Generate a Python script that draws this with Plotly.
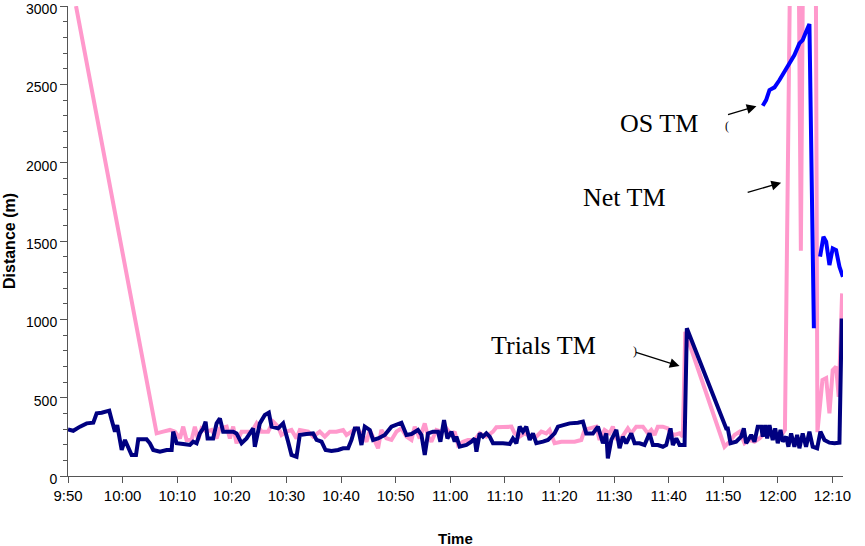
import plotly.graph_objects as go

DAY = "2000-01-01 "

# Trials TM (navy)
trials_time = [
    "09:50:00", "09:50:58", "09:52:12", "09:53:25", "09:54:38", "09:55:15", "09:56:10", "09:57:05", "09:57:33", "09:58:00",
    "09:58:36", "09:59:01", "09:59:50", "10:00:26", "10:01:02", "10:01:39", "10:02:27", "10:02:52", "10:04:24", "10:05:00",
    "10:05:37", "10:06:50", "10:08:04", "10:08:59", "10:09:16", "10:09:54", "10:11:06", "10:12:20", "10:12:56", "10:13:33",
    "10:14:09", "10:14:46", "10:15:12", "10:15:34", "10:16:35", "10:17:13", "10:17:49", "10:18:25", "10:20:15", "10:20:52",
    "10:21:47", "10:22:42", "10:23:55", "10:24:13", "10:25:08", "10:26:03", "10:26:47", "10:27:17", "10:28:29", "10:29:24",
    "10:30:19", "10:30:56", "10:31:51", "10:32:27", "10:33:41", "10:34:53", "10:35:31", "10:36:26", "10:37:10", "10:38:15",
    "10:39:28", "10:40:23", "10:41:18", "10:41:55", "10:42:31", "10:43:08", "10:43:45", "10:44:21", "10:45:16", "10:45:52",
    "10:46:47", "10:48:01", "10:49:14", "10:50:27", "10:51:04", "10:51:59", "10:52:54", "10:54:06", "10:54:44", "10:55:20",
    "10:55:56", "10:56:51", "10:57:46", "10:58:12", "10:58:52", "10:59:29", "11:00:13", "11:00:49", "11:01:08", "11:01:44",
    "11:02:58", "11:03:53", "11:04:29", "11:04:48", "11:05:24", "11:06:00", "11:06:37", "11:07:14", "11:07:50", "11:09:40",
    "11:10:53", "11:11:29", "11:12:07", "11:12:43", "11:13:19", "11:13:56", "11:14:33", "11:15:09", "11:15:46", "11:16:59",
    "11:17:54", "11:18:31", "11:19:07", "11:19:44", "11:20:38", "11:21:52", "11:23:23", "11:24:18", "11:24:55", "11:26:08",
    "11:27:03", "11:27:58", "11:28:35", "11:28:52", "11:29:30", "11:30:25", "11:31:01", "11:31:37", "11:32:14", "11:33:09",
    "11:33:46", "11:34:41", "11:35:35", "11:36:30", "11:37:07", "11:38:02", "11:38:57", "11:39:34", "11:40:21", "11:40:46",
    "11:41:24", "11:42:00", "11:42:55", "11:43:20", "11:50:33", "11:50:50", "11:51:20", "11:52:22", "11:53:17", "11:53:46",
    "11:54:12", "11:55:07", "11:55:43", "11:56:19", "11:56:57", "11:57:14", "11:57:41", "11:58:03", "11:58:28", "11:59:04",
    "11:59:31", "11:59:59", "12:00:29", "12:00:54", "12:01:31", "12:01:56", "12:02:26", "12:03:02", "12:03:32", "12:03:57",
    "12:04:33", "12:05:10", "12:05:47", "12:06:23", "12:07:12", "12:07:48", "12:08:32", "12:09:27", "12:10:22", "12:11:17",
    "12:11:42",
]
trials_dist = [
    298, 289, 315, 336, 340, 400, 404, 410, 417, 357,
    283, 325, 166, 230, 187, 134, 134, 234, 234, 209,
    166, 155, 166, 166, 283, 209, 204, 198, 219, 209,
    272, 304, 347, 240, 240, 336, 368, 283, 283, 272,
    209, 240, 304, 187, 336, 389, 404, 315, 304, 336,
    219, 134, 123, 262, 268, 272, 230, 219, 166, 160,
    166, 177, 177, 230, 304, 304, 198, 315, 294, 230,
    240, 262, 315, 336, 340, 262, 268, 294, 262, 134,
    272, 283, 283, 219, 357, 240, 283, 219, 251, 187,
    198, 219, 240, 155, 272, 251, 272, 251, 209, 209,
    204, 240, 209, 315, 283, 315, 230, 272, 209, 219,
    230, 251, 272, 315, 325, 336, 340, 347, 272, 272,
    315, 209, 272, 113, 230, 294, 177, 251, 209, 272,
    209, 209, 198, 272, 198, 198, 187, 198, 304, 198,
    240, 198, 198, 943, 304, 304, 209, 219, 251, 304,
    209, 262, 219, 315, 315, 251, 325, 240, 325, 230,
    304, 209, 294, 219, 251, 187, 272, 187, 262, 177,
    272, 187, 283, 187, 177, 283, 230, 213, 209, 213,
    1006,
]

# Net TM (pink)
net_time = [
    "09:51:28", "10:06:14", "10:07:26", "10:08:40", "10:09:35", "10:10:30", "10:11:06", "10:11:43", "10:12:38", "10:13:14",
    "10:13:51", "10:14:28", "10:15:23", "10:16:18", "10:17:13", "10:17:49", "10:19:03", "10:19:39", "10:20:15", "10:20:52",
    "10:21:47", "10:23:37", "10:24:32", "10:25:27", "10:26:39", "10:27:34", "10:28:29", "10:29:06", "10:30:01", "10:30:56",
    "10:31:51", "10:32:27", "10:33:59", "10:34:53", "10:36:07", "10:37:02", "10:37:57", "10:39:10", "10:40:23", "10:41:00",
    "10:41:55", "10:42:50", "10:43:45", "10:44:40", "10:45:16", "10:46:11", "10:46:47", "10:47:24", "10:48:19", "10:49:14",
    "10:50:09", "10:51:04", "10:51:59", "10:52:54", "10:53:30", "10:54:25", "10:55:20", "10:55:56", "10:56:33", "10:57:28",
    "10:58:23", "10:59:18", "11:00:13", "11:00:49", "11:01:26", "11:02:20", "11:03:15", "11:04:29", "11:05:24", "11:06:37",
    "11:07:50", "11:08:27", "11:11:12", "11:11:48", "11:12:43", "11:13:38", "11:14:51", "11:15:46", "11:16:41", "11:17:36",
    "11:18:12", "11:19:07", "11:20:21", "11:21:33", "11:22:47", "11:24:00", "11:24:37", "11:25:32", "11:26:45", "11:27:21",
    "11:28:16", "11:29:11", "11:29:47", "11:30:24", "11:31:19", "11:32:32", "11:33:09", "11:34:04", "11:35:17", "11:36:12",
    "11:36:49", "11:37:25", "11:38:01", "11:38:56", "11:39:51", "11:40:21", "11:41:05", "11:42:00", "11:42:36", "11:43:03",
    "11:50:14", "11:51:09", "11:52:04", "11:52:59", "11:53:54", "11:54:49", "11:55:43", "11:56:38", "11:57:33", "11:58:47",
    "11:59:59", "12:00:54", "12:01:18", "12:02:13", "12:03:51", "12:04:13", "12:04:35", "12:06:58", "12:07:15", "12:08:10",
    "12:08:51", "12:09:27", "12:10:03", "12:10:40", "12:11:09", "12:11:46",
]
net_dist = [
    3000, 272, 283, 294, 283, 240, 315, 230, 230, 315,
    230, 304, 283, 294, 240, 304, 315, 240, 315, 209,
    283, 283, 336, 283, 283, 347, 315, 262, 283, 294,
    240, 294, 283, 251, 283, 251, 283, 283, 294, 262,
    283, 304, 272, 219, 294, 230, 177, 294, 240, 230,
    283, 304, 251, 230, 315, 240, 336, 251, 219, 294,
    283, 304, 262, 283, 198, 219, 230, 230, 272, 251,
    283, 311, 315, 272, 251, 272, 251, 251, 283, 272,
    294, 209, 219, 219, 219, 230, 294, 304, 315, 230,
    294, 272, 315, 240, 240, 304, 272, 315, 315, 272,
    294, 262, 315, 315, 304, 272, 262, 272, 251, 921,
    187, 219, 262, 283, 209, 230, 219, 240, 272, 262,
    251, 272, 294, 3150, 3150, 1438, 3150, 3150, 280, 613,
    625, 400, 676, 698, 506, 1166,
]

# OS TM (blue)
os_time = [
    "11:57:14", "11:57:51", "11:58:28", "11:59:23", "12:00:18", "12:01:24", "12:02:26", "12:03:02", "12:03:57", "12:04:33",
    "12:05:10", "12:05:47", "12:06:36", "12:07:10", "12:07:44", "12:08:21", "12:08:51", "12:09:27", "12:10:03", "12:10:40",
    "12:11:17", "12:11:55",
]
os_dist = [
    2364, 2400, 2464, 2481, 2528, 2591, 2645, 2687, 2762, 2783,
    2836, 2885, 943, None, 1400, 1527, 1496, 1347, 1453, 1442,
    1336, 1272,
]

assert len(trials_time) == len(trials_dist)
assert len(net_time) == len(net_dist)
assert len(os_time) == len(os_dist)


def stamp(times):
    return [DAY + t for t in times]


SANS = "Liberation Sans, Arial, sans-serif"
SERIF = "Liberation Serif, Times New Roman, serif"

fig = go.Figure()
fig.add_trace(go.Scatter(x=stamp(net_time), y=net_dist, mode="lines", name="Net TM",
                         line=dict(color="#FF99CC", width=4)))
fig.add_trace(go.Scatter(x=stamp(trials_time), y=trials_dist, mode="lines", name="Trials TM",
                         line=dict(color="#000080", width=4)))
fig.add_trace(go.Scatter(x=stamp(os_time), y=os_dist, mode="lines", name="OS TM",
                         connectgaps=False, line=dict(color="#0000FF", width=4)))

# Callout labels with arrows: (text, text pos, arrow tail, arrow head)
callouts = [
    ("OS TM", ("11:38:09", 2253), ("11:50:36", 2304), ("11:56:05", 2361)),
    ("Net TM", ("11:31:56", 1780), ("11:54:12", 1808), ("12:00:36", 1872)),
    ("Trials TM", ("11:17:06", 830), ("11:33:46", 793), ("11:42:00", 702)),
]
for text, (tx, ty), (ax_, ay_), (hx, hy) in callouts:
    fig.add_annotation(x=DAY + tx, y=ty, text=text, showarrow=False,
                       font=dict(family=SERIF, size=26, color="black"))
    fig.add_annotation(x=DAY + hx, y=hy, ax=DAY + ax_, ay=ay_, axref="x", ayref="y",
                       text="", showarrow=True, arrowhead=2, arrowsize=1.5,
                       arrowwidth=1.3, arrowcolor="black")

# small hooks at the arrow tails
for glyph, gx, gy in [("(", "11:50:45", 2235), (")", "11:33:50", 800)]:
    fig.add_annotation(x=DAY + gx, y=gy, text=glyph, showarrow=False,
                       font=dict(family=SERIF, size=12, color="black"))

fig.add_annotation(xref="paper", yref="paper", x=0, y=0.5, xshift=-59,
                   xanchor="center", yanchor="middle",
                   text="<b>Distance (m)</b>", textangle=-90, showarrow=False,
                   font=dict(family=SANS, size=16, color="black"))
fig.add_annotation(xref="paper", yref="paper", x=0.5, y=0, yshift=-62,
                   xanchor="center", yanchor="middle",
                   text="<b>Time</b>", showarrow=False,
                   font=dict(family=SANS, size=15, color="black"))

fig.update_layout(
    width=865, height=546,
    margin=dict(l=68, r=22, t=6, b=70),
    paper_bgcolor="white", plot_bgcolor="white",
    showlegend=False,
    font=dict(family=SANS, size=15, color="black"),
)
fig.update_xaxes(
    type="date", automargin=False,
    range=[DAY + "09:50:00", DAY + "12:11:56"],
    tick0=DAY + "09:50:00", dtick=600000, tickformat="%-H:%M",
    ticks="outside", ticklen=6, tickwidth=1, tickcolor="#555",
    showline=True, linecolor="#555", linewidth=1,
    showgrid=False, zeroline=False,
    tickfont=dict(family=SANS, size=15, color="black"),
)
fig.update_yaxes(
    automargin=False,
    range=[0, 3000.5], tick0=0, dtick=500,
    ticks="outside", ticklen=7, tickwidth=1, tickcolor="#555",
    ticklabeloverflow="allow", ticklabelshift=3,
    minor=dict(dtick=100, ticks="outside", ticklen=4, tickcolor="#555", showgrid=False),
    showline=True, linecolor="#555", linewidth=1,
    showgrid=False, zeroline=False,
    tickfont=dict(family=SANS, size=14, color="black"),
)

fig.write_html("out.html")
